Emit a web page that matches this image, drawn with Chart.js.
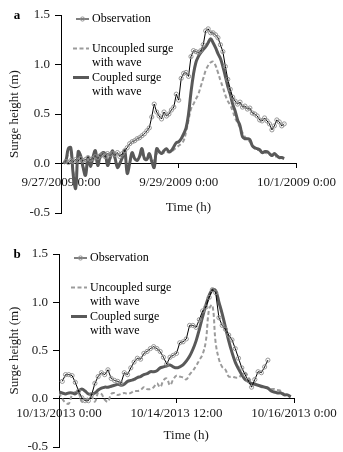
<!DOCTYPE html>
<html>
<head>
<meta charset="utf-8">
<script src="https://cdn.jsdelivr.net/npm/chart.js@4.4.1/dist/chart.umd.min.js"></script>
<style>
  html, body { margin: 0; padding: 0; background: #fff; overflow: hidden; }
  #wrap { position: relative; width: 343px; height: 452px; overflow: hidden; }
  canvas { position: absolute; left: 0; }
  #chartA { top: 0; }
  #chartB { top: 226px; }
</style>
</head>
<body>
<div id="wrap">
  <canvas id="chartA" width="343" height="226"></canvas>
  <canvas id="chartB" width="343" height="240"></canvas>
</div>
<script>
const seriesNames = ['Observation', 'Uncoupled surge\nwith wave', 'Coupled surge\nwith wave'];

// 2009 event: hourly values, hour 0 = 9/27/2009 0:00
const tickLabelsA = ['9/27/2009 0:00', '9/29/2009 0:00', '10/1/2009 0:00'];
const spanA = 96;
const obsStartA = 2;
const obsA = [
  0.02, 0.01, 0.03, 0.02, 0.04, 0.03, 0.05, 0.03, 0.04, 0.06,
  0.04, 0.05, 0.07, 0.06, 0.08, 0.09, 0.07, 0.10, 0.09, 0.10,
  0.09, 0.11, 0.07, 0.10, 0.13, 0.16, 0.20, 0.22, 0.23, 0.25,
  0.26, 0.28, 0.30, 0.33, 0.36, 0.47, 0.60, 0.52, 0.48, 0.45,
  0.52, 0.48, 0.50, 0.54, 0.57, 0.70, 0.64, 0.86, 0.91, 0.92,
  0.88, 1.08, 1.14, 1.13, 1.12, 1.14, 1.20, 1.34, 1.36, 1.32,
  1.32, 1.30, 1.27, 1.20, 1.13, 0.98, 0.85, 0.75, 0.67, 0.63,
  0.60, 0.62, 0.57, 0.58, 0.55, 0.56, 0.51, 0.50, 0.48, 0.44,
  0.43, 0.46, 0.43, 0.40, 0.34, 0.38, 0.44, 0.42, 0.38, 0.40
];
const modelStartA = 1;
const uncoupledA = [
  0.00, 0.02, 0.10, 0.10, -0.08, -0.16, 0.08, 0.05, -0.03, -0.08,
  0.04, -0.02, 0.04, 0.09, -0.01, 0.05, 0.08, 0.07, 0.00, 0.04,
  0.09, 0.05, -0.02, 0.01, 0.05, 0.09, -0.05, 0.01, 0.08, 0.05,
  0.04, 0.06, 0.10, 0.06, 0.05, 0.08, 0.05, 0.03, 0.10, 0.10,
  0.10, 0.11, 0.12, 0.11, 0.12, 0.14, 0.16, 0.18, 0.20, 0.23,
  0.32, 0.44, 0.55, 0.60, 0.65, 0.70, 0.78, 0.86, 0.94, 0.99,
  1.02, 1.03, 0.99, 0.92, 0.84, 0.77, 0.69, 0.63, 0.59, 0.53,
  0.46, 0.41, 0.36, 0.31, 0.27, 0.24, 0.22, 0.18, 0.15, 0.14,
  0.13, 0.11, 0.11, 0.10, 0.09, 0.08, 0.07, 0.07
];
const coupledA = [
  0.00, 0.03, 0.15, 0.16, -0.12, -0.25, 0.12, 0.08, -0.04, -0.12,
  0.06, -0.03, 0.06, 0.13, -0.02, 0.08, 0.11, 0.10, -0.02, 0.06,
  0.13, 0.06, -0.04, 0.00, 0.06, 0.13, -0.10, 0.00, 0.11, 0.05,
  0.03, 0.07, 0.15, 0.05, 0.04, 0.10, 0.02, -0.04, 0.15, 0.12,
  0.10, 0.13, 0.15, 0.12, 0.13, 0.17, 0.21, 0.22, 0.25, 0.30,
  0.36, 0.50, 0.72, 0.90, 1.02, 1.08, 1.12, 1.15, 1.18, 1.22,
  1.26, 1.22, 1.17, 1.11, 1.06, 0.98, 0.88, 0.78, 0.70, 0.60,
  0.53, 0.44, 0.38, 0.27, 0.25, 0.25, 0.24, 0.18, 0.16, 0.15,
  0.14, 0.11, 0.12, 0.12, 0.10, 0.08, 0.10, 0.08, 0.06, 0.06, 0.05
];

// 2013 event: hourly values, hour 0 = 10/13/2013 0:00
const tickLabelsB = ['10/13/2013 0:00', '10/14/2013 12:00', '10/16/2013 0:00'];
const spanB = 72;
const obsStartB = 1;
const obsB = [
  0.18, 0.25, 0.25, 0.24, 0.17, 0.08, 0.01, -0.02, -0.02, 0.04,
  0.16, 0.23, 0.27, 0.25, 0.30, 0.21, 0.19, 0.18, 0.16, 0.27,
  0.25, 0.32, 0.38, 0.42, 0.41, 0.47, 0.49, 0.52, 0.54, 0.52,
  0.49, 0.43, 0.36, 0.43, 0.45, 0.47, 0.58, 0.59, 0.62, 0.76,
  0.76, 0.74, 0.82, 0.91, 0.95, 1.05, 1.13, 1.10, 0.84, 0.76,
  0.72, 0.66, 0.61, 0.52, 0.42, 0.32, 0.25, 0.19, 0.12, 0.20,
  0.28, 0.27, 0.33, 0.40
];
const modelStartB = 0;
const uncoupledB = [
  0.06, 0.00, -0.04, -0.05, 0.04, 0.07, 0.06, -0.03, -0.02, 0.01,
  0.02, -0.03, 0.06, 0.05, -0.01, -0.03, 0.05, 0.06, 0.04, 0.05,
  0.06, 0.05, 0.06, 0.08, 0.08, 0.09, 0.12, 0.10, 0.10, 0.12,
  0.16, 0.12, 0.19, 0.21, 0.14, 0.20, 0.24, 0.23, 0.22, 0.20,
  0.25, 0.29, 0.34, 0.40, 0.46, 0.60, 0.93, 0.97, 0.58, 0.41,
  0.33, 0.30, 0.23, 0.23, 0.22, 0.22, 0.25, 0.27, 0.22, 0.18,
  0.16, 0.14, 0.12, 0.12, 0.11, 0.10, 0.10, 0.09, 0.08, 0.05,
  0.03, 0.02
];
const coupledB = [
  0.07, 0.06, 0.05, 0.06, 0.06, 0.05, 0.08, 0.10, 0.08, 0.05,
  0.05, 0.06, 0.09, 0.11, 0.12, 0.12, 0.13, 0.14, 0.15, 0.14,
  0.15, 0.18, 0.19, 0.20, 0.22, 0.23, 0.25, 0.26, 0.28, 0.28,
  0.29, 0.32, 0.33, 0.34, 0.35, 0.33, 0.32, 0.33, 0.35, 0.39,
  0.44, 0.51, 0.60, 0.72, 0.85, 0.97, 1.07, 1.13, 1.12, 1.00,
  0.88, 0.74, 0.60, 0.48, 0.38, 0.31, 0.25, 0.20, 0.18, 0.16,
  0.15, 0.14, 0.13, 0.12, 0.11, 0.08, 0.07, 0.06, 0.06, 0.04,
  0.04, 0.02
];

const serif = "'Liberation Serif', 'Times New Roman', serif";
Chart.defaults.font.family = serif;
Chart.defaults.font.size = 13;
Chart.defaults.color = '#1a1a1a';

function toPoints(values, start) {
  return values.map((v, i) => ({ x: start + i, y: v }));
}

// panel letter plus the legend block inside the top-left of the plot
const panelDecor = {
  id: 'panelDecor',
  afterDraw(chart, args, opts) {
    const { ctx, chartArea } = chart;
    ctx.save();
    ctx.fillStyle = '#000';
    ctx.textBaseline = 'middle';
    ctx.textAlign = 'center';
    ctx.font = 'bold 13px ' + serif;
    ctx.fillText(opts.letter, 17, chartArea.top + 1);

    ctx.font = '12px ' + serif;
    ctx.textAlign = 'left';
    const rowTop = [4, 33.5, 62.5];
    const lineGap = 14.5;
    const left = chartArea.left;
    chart.data.datasets.forEach((ds, i) => {
      const y = chartArea.top + rowTop[i];
      const hasPoint = ds.pointRadius > 0;
      ctx.save();
      ctx.strokeStyle = ds.borderColor;
      ctx.lineWidth = ds.borderWidth;
      ctx.setLineDash(ds.borderDash || []);
      ctx.beginPath();
      ctx.moveTo(left + (hasPoint ? 15 : 12), y);
      ctx.lineTo(left + 28, y);
      ctx.stroke();
      if (hasPoint) {
        ctx.setLineDash([]);
        ctx.beginPath();
        ctx.arc(left + 21.5, y, ds.pointRadius, 0, Math.PI * 2);
        ctx.lineWidth = ds.pointBorderWidth;
        ctx.strokeStyle = ds.pointBorderColor;
        ctx.stroke();
      }
      ctx.restore();
      seriesNames[i].split('\n').forEach((line, k) => {
        ctx.fillText(line, left + 31, y + k * lineGap);
      });
    });
    ctx.restore();
  }
};

function makeChart(id, p) {
  const half = p.span / 2;
  return new Chart(document.getElementById(id), {
    type: 'line',
    data: {
      datasets: [
        {
          label: seriesNames[0].replace('\n', ' '),
          data: toPoints(p.obs, p.obsStart),
          borderColor: '#000',
          borderWidth: 1,
          pointRadius: 2.1,
          pointBorderWidth: 0.9,
          pointBorderColor: '#8c8c8c',
          pointBackgroundColor: 'rgba(255,255,255,0)',
          order: 0
        },
        {
          label: seriesNames[1].replace('\n', ' '),
          data: toPoints(p.uncoupled, p.modelStart),
          borderColor: '#9b9b9b',
          borderWidth: 2,
          borderDash: [4, 2.5],
          pointRadius: 0,
          tension: 0.4,
          order: 2
        },
        {
          label: seriesNames[2].replace('\n', ' '),
          data: toPoints(p.coupled, p.modelStart),
          borderColor: '#595959',
          borderWidth: 3,
          pointRadius: 0,
          tension: 0.4,
          order: 1
        }
      ]
    },
    options: {
      responsive: false,
      animation: false,
      devicePixelRatio: 1,
      layout: { padding: p.padding },
      plugins: {
        legend: { display: false },
        tooltip: { enabled: false },
        panelDecor: { letter: p.letter }
      },
      scales: {
        x: {
          type: 'linear',
          min: 0,
          max: p.span,
          // axis line sits on the zero level, labels hang below it
          position: { y: 0 },
          ticks: {
            stepSize: half,
            padding: p.xTickPad,
            maxRotation: 0,
            autoSkip: false,
            callback: v => p.tickLabels[Math.round(v / half)]
          },
          grid: { drawOnChartArea: false, drawTicks: true, tickLength: 4, color: '#000' },
          border: { color: '#000', width: 1 },
          // figure spaces nudge the centred title right of the axis midpoint
          title: { display: true, text: '\u2007\u2007\u2007Time (h)', padding: { top: p.xTitlePad, bottom: 0 } }
        },
        y: {
          min: -0.5,
          max: 1.5,
          ticks: { stepSize: 0.5, padding: 5, callback: v => v.toFixed(1) },
          grid: { drawOnChartArea: false, drawTicks: true, tickLength: 6, color: '#000' },
          border: { color: '#000', width: 1 },
          title: { display: true, text: 'Surge height (m)', padding: { top: 7.2, bottom: 0 } },
          afterFit: scale => { scale.width = p.yWidth; }
        }
      }
    },
    plugins: [panelDecor]
  });
}

makeChart('chartA', {
  letter: 'a',
  span: spanA,
  tickLabels: tickLabelsA,
  obs: obsA, obsStart: obsStartA,
  uncoupled: uncoupledA, coupled: coupledA, modelStart: modelStartA,
  yWidth: 61,
  xTickPad: 7,
  xTitlePad: 2.6,
  padding: { left: 0, right: 44, top: 15, bottom: 13 }
});

makeChart('chartB', {
  letter: 'b',
  span: spanB,
  tickLabels: tickLabelsB,
  obs: obsB, obsStart: obsStartB,
  uncoupled: uncoupledB, coupled: coupledB, modelStart: modelStartB,
  yWidth: 59,
  xTickPad: 3.2,
  xTitlePad: 2.9,
  padding: { left: 0, right: 49, top: 28, bottom: 19 }
});
</script>
</body>
</html>
